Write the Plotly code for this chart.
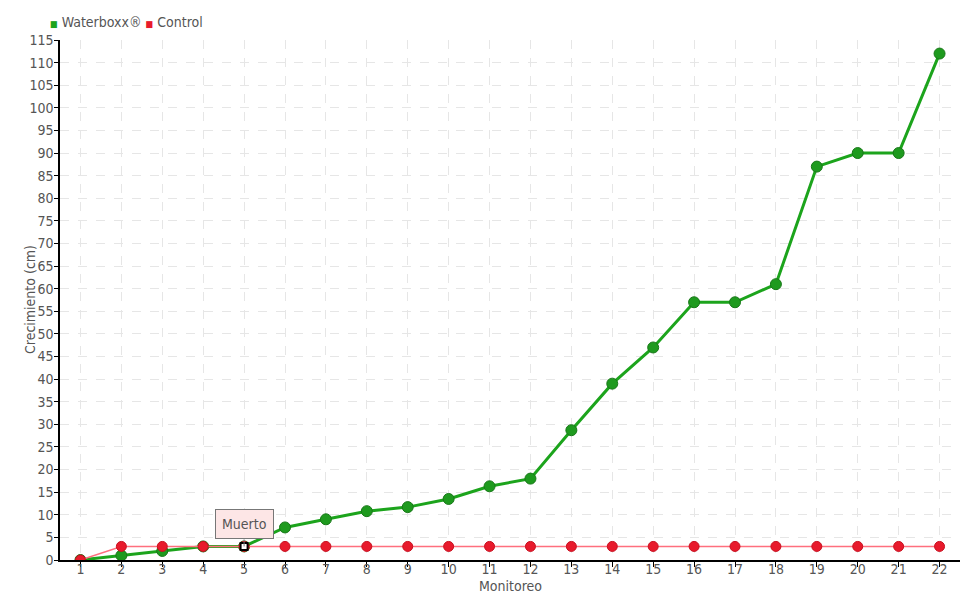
import plotly.graph_objects as go

monitoreo = list(range(1, 23))
waterboxx = [0, 1, 2, 3, 3, 7.2, 9, 10.8, 11.7, 13.5, 16.3, 18, 28.7, 39, 47, 57, 57, 61, 87, 90, 90, 112]
control = [0] + [3] * 21
y_ticks = list(range(0, 120, 5))
muerto_idx = 4  # Monitoreo 5

FONT = "DejaVu Sans Condensed, Liberation Sans Narrow, sans-serif"
TXT = "#555555"
GREEN = "#1ca41c"
RED = "#e81a2c"

# page has an 8px body margin; compensate
W, H = 972, 592
L, R, T, B = 52, 20, 32, 40
PW, PH = W - L - R, H - T - B


def px(xp):  # page x -> paper
    return (xp - 8 - L) / PW


def py(yp):  # page y -> paper
    return (H - B - (yp - 8)) / PH


fig = go.Figure()

fig.add_trace(go.Scatter(
    x=monitoreo, y=waterboxx, mode="lines+markers", showlegend=False,
    line=dict(color=GREEN, width=3),
    marker=dict(size=11, color="#1e9a1e", line=dict(color="#187818", width=1)),
))
fig.add_trace(go.Scatter(
    x=monitoreo, y=control, mode="lines+markers", showlegend=False,
    line=dict(color="#ff6f7e", width=1.5),
    marker=dict(size=10, color=RED, line=dict(color="#c8101f", width=1)),
))
fig.add_trace(go.Scatter(
    x=[monitoreo[muerto_idx]], y=[control[muerto_idx]], mode="markers", showlegend=False,
    marker=dict(size=7, symbol="square", color="white", line=dict(color="black", width=2)),
    hoverinfo="skip",
))

# legend as text
fig.add_annotation(
    x=px(48), y=py(22), xref="paper", yref="paper", showarrow=False,
    text=(f"<span style='color:{GREEN};font-size:9px'>■</span> Waterboxx® "
          f"<span style='color:{RED};font-size:9px'>■</span> Control"),
    font=dict(family=FONT, size=14, color=TXT), xanchor="left", yanchor="middle",
)
# axis titles
fig.add_annotation(
    x=0.5, y=py(586), xref="paper", yref="paper", showarrow=False, text="Monitoreo",
    font=dict(family=FONT, size=14, color=TXT), xanchor="center", yanchor="middle",
)
fig.add_annotation(
    x=px(30), y=py(300), xref="paper", yref="paper", showarrow=False, text="Crecimiento (cm)",
    textangle=-90, font=dict(family=FONT, size=14, color=TXT), xanchor="center", yanchor="middle",
)

fig.add_annotation(
    x=monitoreo[muerto_idx], y=control[muerto_idx], text="Muerto",
    showarrow=True, arrowhead=0, arrowwidth=1, arrowcolor="#777777",
    ax=0, ay=-7, yanchor="bottom",
    bgcolor="#fde6e6", bordercolor="#777777", borderwidth=1, borderpad=6,
    font=dict(family=FONT, size=14, color=TXT),
)

grid = dict(showgrid=True, gridcolor="#e6e6e6", griddash="dash", gridwidth=1)
fig.update_layout(
    width=W, height=H,
    margin=dict(l=L, r=R, t=T, b=B, autoexpand=False),
    paper_bgcolor="white", plot_bgcolor="white",
    showlegend=False,
    font=dict(family=FONT, size=14, color=TXT),
    xaxis=dict(range=[0.5, 22.5], tickmode="array", tickvals=monitoreo,
               ticktext=[str(m) for m in monitoreo],
               showline=True, linecolor="black", linewidth=1.5,
               ticks="outside", ticklen=5, tickcolor="black",
               ticklabelstandoff=-10,
               zeroline=False, **grid),
    yaxis=dict(range=[0, 115], tickmode="array", tickvals=y_ticks,
               showline=True, linecolor="black", linewidth=1.5,
               ticks="outside", ticklen=4, tickcolor="black",
               ticklabelstandoff=-2,
               zeroline=False, **grid),
)

fig.write_html("out.html")
